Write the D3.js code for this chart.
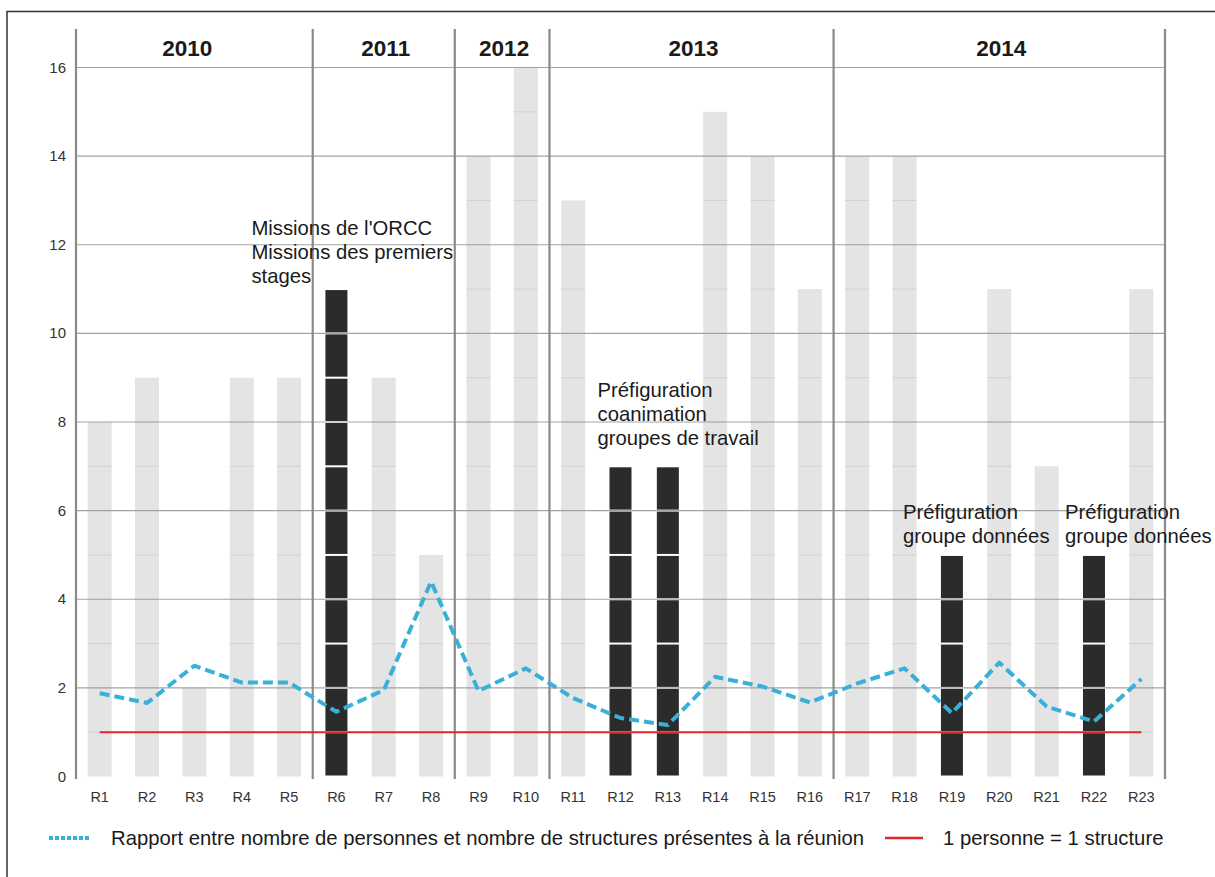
<!DOCTYPE html>
<html>
<head>
<meta charset="utf-8">
<script src="https://cdn.jsdelivr.net/npm/d3@7/dist/d3.min.js"></script>
<style>
  html, body { margin: 0; padding: 0; background: #fff; }
  svg { display: block; font-family: "Liberation Sans", Arial, sans-serif; }
</style>
</head>
<body>
<svg id="chart" width="1215" height="877"></svg>
<script>
// ---------- DATA ----------
const categories = ["R1","R2","R3","R4","R5","R6","R7","R8","R9","R10","R11","R12","R13","R14","R15","R16","R17","R18","R19","R20","R21","R22","R23"];
const structures = [8, 9, 2, 9, 9, 11, 9, 5, 14, 16, 13, 7, 7, 15, 14, 11, 14, 14, 5, 11, 7, 5, 11];
const highlighted = ["R6", "R12", "R13", "R19", "R22"];
const ratio = [1.88, 1.66, 2.5, 2.12, 2.12, 1.46, 1.95, 4.4, 1.93, 2.44, 1.77, 1.32, 1.16, 2.25, 2.03, 1.67, 2.1, 2.44, 1.43, 2.57, 1.58, 1.24, 2.2];
const reference = 1;
const years = ["2010", "2011", "2012", "2013", "2014"];
const yearStart = ["R1", "R6", "R9", "R11", "R17"];
const yearEnd = ["R5", "R8", "R10", "R16", "R23"];
const yTicks = [0, 2, 4, 6, 8, 10, 12, 14, 16];
const annotationTexts = [
  ["Missions de l'ORCC", "Missions des premiers", "stages"],
  ["Préfiguration", "coanimation", "groupes de travail"],
  ["Préfiguration", "groupe données"],
  ["Préfiguration", "groupe données"]
];
const annotationAnchors = ["R6", "R12", "R19", "R22"];
const legendLabels = ["Rapport entre nombre de personnes et nombre de structures présentes à la réunion", "1 personne = 1 structure"];

// ---------- LAYOUT ----------
const svg = d3.select("#chart");
const plotLeft = 76, plotRight = 1165, plotTop = 67.5, plotBottom = 776.5;
const xs = d3.scaleBand().domain(categories).range([plotLeft, plotRight]);
const y = d3.scaleLinear().domain([0, 16]).range([plotBottom, plotTop]);
const cx = c => xs(c) + xs.bandwidth() / 2;

// frame
svg.append("path").attr("d", `M7,877 L7,11.5 L1215,11.5`).attr("fill", "none").attr("stroke", "#333").attr("stroke-width", 1.5);

// gray bars (unit segments)
const grayG = svg.append("g");
categories.forEach((c, i) => {
  if (highlighted.includes(c)) return;
  const w = 24;
  grayG.append("rect")
    .attr("x", cx(c) - w / 2).attr("width", w)
    .attr("y", y(structures[i])).attr("height", y(0) - y(structures[i]))
    .attr("fill", "#e4e4e4");
  d3.range(1, structures[i]).forEach(k => {
    grayG.append("line")
      .attr("x1", cx(c) - w / 2).attr("x2", cx(c) + w / 2)
      .attr("y1", y(k)).attr("y2", y(k))
      .attr("stroke", "#d2d2d2").attr("stroke-width", 1);
  });
});

// gridlines
svg.append("g").selectAll("line").data(yTicks.filter(d => d > 0)).join("line")
  .attr("x1", plotLeft).attr("x2", plotRight)
  .attr("y1", d => y(d)).attr("y2", d => y(d))
  .attr("stroke", "#a3a3a3").attr("stroke-width", 1.2);

// y tick labels
svg.append("g").selectAll("text").data(yTicks).join("text")
  .attr("x", 66).attr("y", d => y(d) + 5)
  .attr("text-anchor", "end").attr("font-size", 15).attr("fill", "#333")
  .text(d => d);

// dark bars (unit segments)
const darkG = svg.append("g");
categories.forEach((c, i) => {
  if (!highlighted.includes(c)) return;
  const w = 22;
  d3.range(0, structures[i]).forEach(k => {
    darkG.append("rect")
      .attr("x", cx(c) - w / 2).attr("width", w)
      .attr("y", y(k + 1) + 1).attr("height", y(k) - y(k + 1) - 2)
      .attr("fill", "#2b2b2b");
  });
});

// year separators
const sepX = [xs(yearStart[0])].concat(yearEnd.map(c => xs(c) + xs.bandwidth()));
svg.append("g").selectAll("line").data(sepX).join("line")
  .attr("x1", d => d).attr("x2", d => d)
  .attr("y1", 29).attr("y2", 779)
  .attr("stroke", "#8a8a8a").attr("stroke-width", 2.2);

// year labels
svg.append("g").selectAll("text").data(years).join("text")
  .attr("x", (d, i) => (xs(yearStart[i]) + xs(yearEnd[i]) + xs.bandwidth()) / 2 + (i === 0 ? -7 : 2))
  .attr("y", 56)
  .attr("text-anchor", "middle").attr("font-size", 22.5).attr("font-weight", "bold").attr("fill", "#1a1a1a")
  .text(d => d);

// x labels
svg.append("g").selectAll("text").data(categories).join("text")
  .attr("x", d => cx(d)).attr("y", 802)
  .attr("text-anchor", "middle").attr("font-size", 14.5).attr("fill", "#333")
  .text(d => d);

// reference line
svg.append("line")
  .attr("x1", cx(categories[0])).attr("x2", cx(categories[categories.length - 1]))
  .attr("y1", y(reference)).attr("y2", y(reference))
  .attr("stroke", "#e0262b").attr("stroke-width", 2);

// ratio line
const line = d3.line().x((d, i) => cx(categories[i])).y(d => y(d));
svg.append("path").datum(ratio)
  .attr("d", line).attr("fill", "none")
  .attr("stroke", "#3aafd8").attr("stroke-width", 4)
  .attr("stroke-dasharray", "10,5").attr("stroke-linejoin", "round");

// annotations
const annDx = [-85, -23, -49, -29];
const annGap = [6, 21, 12, 12];
const annG = svg.append("g").attr("font-size", 20.3).attr("fill", "#1a1a1a");
annotationTexts.forEach((lines, a) => {
  const c = annotationAnchors[a];
  const i = categories.indexOf(c);
  const lastBase = y(structures[i]) - annGap[a];
  lines.forEach((t, k) => {
    annG.append("text")
      .attr("x", cx(c) + annDx[a])
      .attr("y", lastBase - (lines.length - 1 - k) * 24)
      .text(t);
  });
});

// legend
const lg = svg.append("g");
lg.append("line").attr("x1", 49).attr("x2", 89).attr("y1", 838).attr("y2", 838)
  .attr("stroke", "#3aafd8").attr("stroke-width", 4).attr("stroke-dasharray", "4,2");
lg.append("text").attr("x", 111).attr("y", 845).attr("font-size", 20.3).attr("fill", "#1a1a1a").text(legendLabels[0]);
lg.append("line").attr("x1", 885).attr("x2", 923).attr("y1", 838).attr("y2", 838)
  .attr("stroke", "#e0262b").attr("stroke-width", 2.5);
lg.append("text").attr("x", 943).attr("y", 845).attr("font-size", 20.3).attr("fill", "#1a1a1a").text(legendLabels[1]);
</script>
</body>
</html>
